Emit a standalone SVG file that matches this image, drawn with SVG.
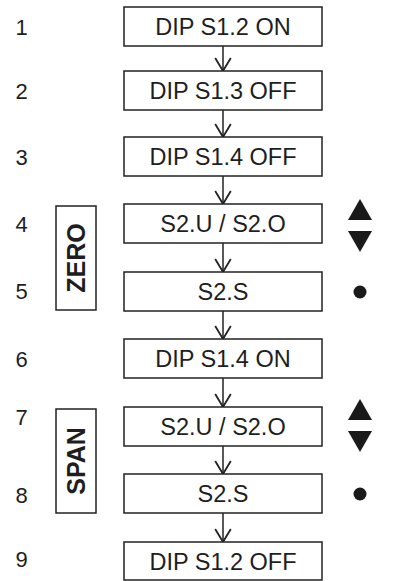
<svg xmlns="http://www.w3.org/2000/svg" width="398" height="581" viewBox="0 0 398 581">
<style>
.box{fill:#fff;stroke:#222;stroke-width:1.5}
.bt{font-family:"Liberation Sans",Arial,sans-serif;font-size:23.5px;fill:#1e1e1e;text-anchor:middle}
.num{font-family:"Liberation Sans",Arial,sans-serif;font-size:22px;fill:#1e1e1e;text-anchor:middle}
.lbl{font-family:"Liberation Sans",Arial,sans-serif;font-size:25px;font-weight:bold;fill:#1e1e1e;text-anchor:middle}
.conn{stroke:#222;stroke-width:1.5;fill:none;marker-end:url(#arr)}
.sym{fill:#1a1a1a}
</style>
<defs>
<marker id="arr" viewBox="0 0 20 20" markerWidth="20" markerHeight="20" refX="14" refY="10" orient="auto" markerUnits="userSpaceOnUse">
<path d="M1,2.2 L14,10 L1,17.8" fill="none" stroke="#222" stroke-width="1.8"/>
</marker>
</defs>
<g id="connectors">
<line class="conn" x1="223" y1="46" x2="223" y2="71"/>
<line class="conn" x1="223" y1="110" x2="223" y2="137"/>
<line class="conn" x1="223" y1="176" x2="223" y2="204"/>
<line class="conn" x1="223" y1="243" x2="223" y2="272"/>
<line class="conn" x1="223" y1="311" x2="223" y2="339"/>
<line class="conn" x1="223" y1="378" x2="223" y2="407"/>
<line class="conn" x1="223" y1="446" x2="223" y2="474"/>
<line class="conn" x1="223" y1="513" x2="223" y2="542"/>
</g>
<g id="numbers">
<text class="num" x="21.5" y="34.5">1</text>
<text class="num" x="21.5" y="99">2</text>
<text class="num" x="21.5" y="165">3</text>
<text class="num" x="21.5" y="232">4</text>
<text class="num" x="21.5" y="299">5</text>
<text class="num" x="21.5" y="367">6</text>
<text class="num" x="21.5" y="425">7</text>
<text class="num" x="21.5" y="503">8</text>
<text class="num" x="21.5" y="567">9</text>
</g>
<g id="n1"><rect class="box" x="124" y="7" width="198" height="39"/><text class="bt" x="223" y="35">DIP S1.2 ON</text></g>
<g id="n2"><rect class="box" x="124" y="71" width="198" height="39"/><text class="bt" x="223" y="99">DIP S1.3 OFF</text></g>
<g id="n3"><rect class="box" x="124" y="137" width="198" height="39"/><text class="bt" x="223" y="165">DIP S1.4 OFF</text></g>
<g id="n4"><rect class="box" x="124" y="204" width="198" height="39"/><text class="bt" x="223" y="232">S2.U / S2.O</text></g>
<g id="n5"><rect class="box" x="124" y="272" width="198" height="39"/><text class="bt" x="223" y="300">S2.S</text></g>
<g id="n6"><rect class="box" x="124" y="339" width="198" height="39"/><text class="bt" x="223" y="367">DIP S1.4 ON</text></g>
<g id="n7"><rect class="box" x="124" y="407" width="198" height="39"/><text class="bt" x="223" y="435">S2.U / S2.O</text></g>
<g id="n8"><rect class="box" x="124" y="474" width="198" height="39"/><text class="bt" x="223" y="502">S2.S</text></g>
<g id="n9"><rect class="box" x="124" y="542" width="198" height="38"/><text class="bt" x="223" y="569.5">DIP S1.2 OFF</text></g>
<g id="zero"><rect class="box" x="56" y="206" width="40" height="104"/><text class="lbl" transform="translate(85 258) rotate(-90)">ZERO</text></g>
<g id="span"><rect class="box" x="56" y="409" width="40" height="104"/><text class="lbl" transform="translate(85 461) rotate(-90)">SPAN</text></g>
<g id="symbols">
<polygon class="sym" points="360,199 372,220 348,220"/>
<polygon class="sym" points="348,231 372,231 360,252"/>
<circle class="sym" cx="360" cy="292" r="6.5"/>
<polygon class="sym" points="360,399 372,420 348,420"/>
<polygon class="sym" points="348,431 372,431 360,452"/>
<circle class="sym" cx="360" cy="494" r="6.5"/>
</g>
</svg>
